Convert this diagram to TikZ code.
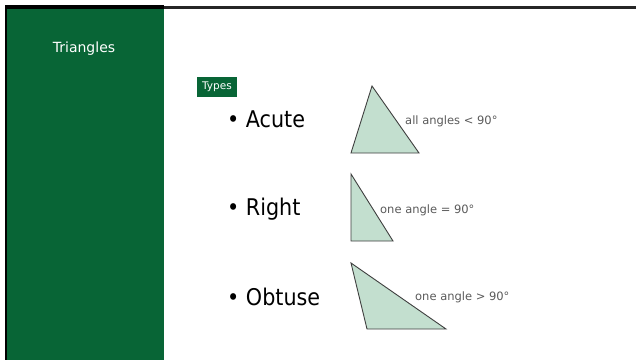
\documentclass[tikz,border=0pt]{standalone}
\usepackage{fontspec}
\setmainfont{DejaVu Sans}
\newfontfamily\narrowsans{DejaVu Sans Condensed}
\definecolor{panel}{HTML}{086536}
\definecolor{trifill}{HTML}{C3DFCF}
\definecolor{triline}{HTML}{3F3F3F}
\definecolor{notegray}{HTML}{5A5A5A}
\tikzset{
  tri/.style={fill=trifill, draw=triline, line width=0.9pt, line join=miter},
  note/.style={text=notegray, font=\fontsize{11.5}{13}\selectfont, anchor=west, inner sep=0pt},
  item/.style={font=\narrowsans\fontsize{23}{27}\selectfont, anchor=base west, inner sep=0pt},
}
\begin{document}
\begin{tikzpicture}[x=1pt, y=-1pt]
\useasboundingbox (0,0) rectangle (636,360);
% side panel and frame
\fill[panel] (7,9) rectangle (164,360);
\fill[black] (5,6) rectangle (7,360);
\fill[black] (5,5) rectangle (164,9);
\fill[black!85] (164,6) rectangle (636,8.5);
\node[text=white, font=\fontsize{14}{16}\selectfont] (title) at (84,49) {Triangles};
% tag
\node[fill=panel, text=white, font=\fontsize{10.5}{12}\selectfont, minimum width=40pt, minimum height=20pt, inner sep=0pt] (tag) at (217,87) {Types};
% bullet items
\node[item] (acute) at (227,127) {\textbullet\ Acute};
\node[item] (right) at (227,215) {\textbullet\ Right};
\node[item] (obtuse) at (227,305) {\textbullet\ Obtuse};
% triangles
\draw[tri] (372,86) -- (351,153) -- (419,153) -- cycle;
\draw[tri] (351,174) -- (351,241) -- (393,241) -- cycle;
\draw[tri] (351,263) -- (367,329) -- (446,329) -- cycle;
% notes
\node[note] (n1) at (405,121) {all angles < 90°};
\node[note] (n2) at (380,210) {one angle = 90°};
\node[note] (n3) at (415,297) {one angle > 90°};
\end{tikzpicture}
\end{document}
